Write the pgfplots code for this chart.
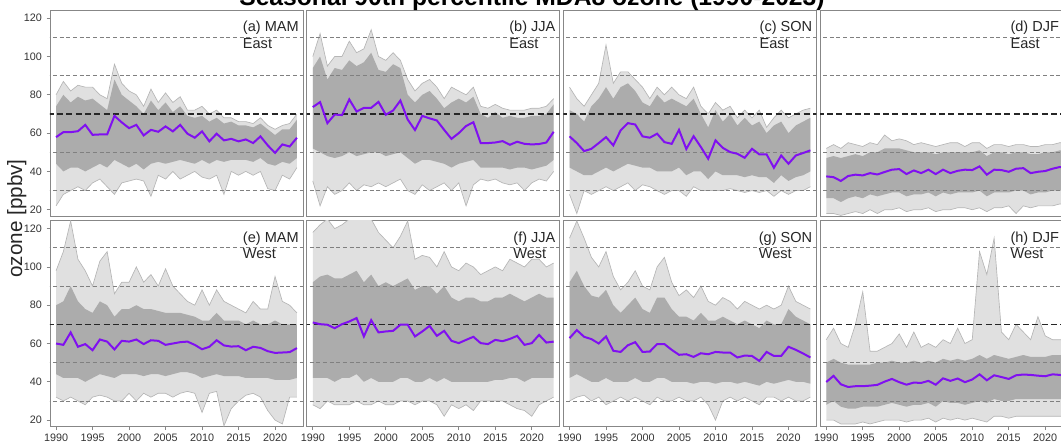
\documentclass[border=0pt]{standalone}
\usepackage{fontspec}
\setmainfont{Liberation Sans}
\usepackage{pgfplots}
\pgfplotsset{compat=1.18}
\usepackage{pgfplotstable}
\usepgfplotslibrary{groupplots,fillbetween}

\definecolor{denseg}{RGB}{172,172,172}
\definecolor{sparseg}{RGB}{224,224,224}
\definecolor{lineg}{RGB}{182,182,182}
\definecolor{framec}{RGB}{135,135,135}
\definecolor{refg}{RGB}{128,128,128}
\definecolor{purp}{RGB}{128,16,240}

% columns: year, outer high, inner high, median, inner low, outer low
\pgfplotstableread{
yr oh ih md il ol
1990 80 74 57.9 44 22
1991 87 80 60.5 40 28
1992 82 76 60.5 42 30
1993 85 79 61.0 42 32
1994 84 77 64.3 40 30
1995 84 78 59.1 42 34
1996 80 75 59.3 44 36
1997 78 72 59.3 42 32
1998 96 88 69.0 46 28
1999 86 80 65.6 44 34
2000 82 77 62.6 42 35
2001 80 74 64.3 44 36
2002 74 70 58.8 41 35
2003 83 77 61.7 44 27
2004 76 72 60.7 45 38
2005 81 76 63.5 44 36
2006 76 71 60.9 45 40
2007 79 74 64.3 46 36
2008 72 69 59.7 45 38
2009 72 68 57.6 44 40
2010 74 69 60.9 46 37
2011 70 66 55.7 44 36
2012 72 68 59.7 46 38
2013 68 65 56.2 45 28
2014 68 66 57.0 46 40
2015 66 64 55.7 46 38
2016 66 64 56.7 46 40
2017 65 63 54.8 45 38
2018 68 65 58.3 47 40
2019 64 62 53.6 44 31
2020 62 59 49.7 43 30
2021 64 62 54.1 45 38
2022 65 62 53.0 44 36
2023 70 67 57.6 47 42
}\tabA

\pgfplotstableread{
yr oh ih md il ol
1990 100 94 73.6 52 35
1991 112 100 76.2 50 22
1992 95 88 65.2 48 32
1993 100 94 69.7 47 28
1994 100 93 69.4 48 30
1995 108 98 77.6 50 34
1996 102 95 71.3 48 30
1997 104 97 73.2 49 33
1998 114 102 73.2 50 32
1999 100 93 76.3 50 34
2000 98 92 69.6 48 32
2001 102 96 71.8 49 34
2002 98 94 77.0 50 36
2003 88 80 67.1 47 30
2004 82 76 61.6 44 28
2005 86 80 69.0 46 33
2006 88 82 67.7 46 30
2007 84 78 66.6 45 32
2008 78 73 61.7 44 34
2009 84 76 57.0 42 30
2010 82 78 60.0 44 34
2011 80 76 63.7 45 22
2012 84 79 65.7 46 33
2013 74 70 54.8 42 36
2014 73 68 54.8 42 35
2015 75 71 55.1 42 36
2016 73 68 55.8 42 34
2017 72 69 53.9 41 33
2018 72 68 55.5 42 34
2019 72 68 54.4 42 30
2020 73 69 54.1 41 34
2021 73 69 54.3 42 36
2022 74 70 55.1 43 35
2023 78 75 60.7 46 40
}\tabB

\pgfplotstableread{
yr oh ih md il ol
1990 84 72 58.3 42 28
1991 78 70 54.8 40 18
1992 74 66 50.6 38 30
1993 80 74 51.8 38 28
1994 86 78 54.8 40 30
1995 106 84 57.9 42 32
1996 86 78 53.6 40 30
1997 92 84 61.4 42 32
1998 92 86 65.2 44 34
1999 88 82 64.5 43 30
2000 84 76 58.3 42 33
2001 78 74 57.6 42 32
2002 84 80 59.7 40 30
2003 80 76 55.3 40 28
2004 84 78 54.4 40 30
2005 80 76 61.7 42 30
2006 78 74 51.7 38 27
2007 84 78 58.4 40 32
2008 74 70 52.7 40 30
2009 70 63 46.6 36 30
2010 76 72 56.2 40 30
2011 72 66 52.3 38 30
2012 74 70 50.1 38 31
2013 68 64 49.2 38 30
2014 72 68 47.1 37 29
2015 68 64 51.8 38 30
2016 72 66 48.9 37 29
2017 63 60 48.9 37 30
2018 68 64 41.9 34 27
2019 72 66 48.3 38 30
2020 68 60 44.0 35 28
2021 70 64 48.3 37 30
2022 72 66 49.6 38 30
2023 73 68 51.0 40 32
}\tabC

\pgfplotstableread{
yr oh ih md il ol
1990 52 47 37.4 26 18
1991 54 48 37.0 26 18
1992 52 47 35.0 24 17
1993 55 48 37.6 26 18
1994 54 49 38.3 27 19
1995 53 48 37.9 26 18
1996 55 50 39.1 28 20
1997 54 50 38.4 27 18
1998 59 52 39.7 28 20
1999 56 52 40.9 29 20
2000 57 52 41.2 29 21
2001 56 51 38.6 27 19
2002 54 50 40.5 28 20
2003 55 50 39.1 28 20
2004 54 50 40.9 29 21
2005 53 49 38.6 27 19
2006 54 50 40.9 29 20
2007 55 50 39.1 28 20
2008 55 50 40.3 29 21
2009 53 50 40.9 29 21
2010 55 50 40.7 29 20
2011 55 51 42.6 30 21
2012 52 48 38.3 27 19
2013 54 50 40.9 29 21
2014 54 50 40.7 29 21
2015 53 49 39.8 29 22
2016 54 50 41.4 30 18
2017 54 50 41.7 30 22
2018 53 49 39.1 28 21
2019 53 49 39.8 29 22
2020 54 50 40.2 29 22
2021 54 50 41.4 30 22
2022 55 51 42.3 30 23
2023 55 51 42.0 30 23
}\tabD

\pgfplotstableread{
yr oh ih md il ol
1990 98 80 60.0 44 32
1991 108 82 59.3 42 30
1992 124 90 65.8 42 32
1993 104 82 58.3 42 30
1994 98 78 59.7 40 28
1995 90 76 56.5 42 32
1996 103 82 62.1 44 33
1997 108 80 61.0 43 32
1998 86 74 56.9 42 30
1999 92 78 61.4 44 30
2000 92 78 61.0 44 34
2001 100 80 62.1 44 30
2002 92 78 59.7 43 34
2003 96 78 61.7 44 32
2004 90 77 61.4 44 34
2005 99 76 59.3 43 34
2006 90 76 60.0 44 32
2007 86 76 60.7 45 34
2008 82 75 61.0 45 35
2009 80 74 59.3 44 34
2010 88 72 57.0 42 24
2011 80 72 58.3 43 34
2012 88 76 61.7 44 35
2013 82 72 59.0 43 17
2014 80 72 58.4 43 26
2015 78 72 58.6 43 30
2016 76 70 56.5 42 33
2017 82 72 58.3 42 34
2018 78 70 57.7 42 32
2019 78 70 56.0 42 25
2020 95 72 55.1 41 20
2021 82 70 55.3 41 18
2022 80 70 55.5 41 32
2023 76 70 57.6 42 32
}\tabE

\pgfplotstableread{
yr oh ih md il ol
1990 118 92 71.0 42 28
1991 122 95 70.1 42 26
1992 125 96 69.8 42 30
1993 120 94 68.0 40 28
1994 122 94 70.1 42 28
1995 125 96 71.5 42 28
1996 125 98 73.3 44 30
1997 125 92 63.7 40 28
1998 125 96 72.2 42 28
1999 118 90 65.8 40 30
2000 114 92 66.3 40 28
2001 110 90 66.6 40 28
2002 116 92 69.8 42 30
2003 124 94 69.8 42 30
2004 104 88 63.7 40 28
2005 106 90 66.3 40 30
2006 105 90 69.2 42 30
2007 100 86 64.0 40 28
2008 108 90 66.6 42 22
2009 100 84 61.4 40 28
2010 98 82 60.2 40 26
2011 102 84 61.9 40 28
2012 100 84 63.5 40 25
2013 96 82 60.2 40 30
2014 98 82 59.7 40 30
2015 100 84 61.9 41 30
2016 98 84 61.2 41 30
2017 104 86 62.4 42 28
2018 102 84 64.0 42 26
2019 100 82 59.3 40 25
2020 104 84 60.2 42 22
2021 104 86 64.5 42 28
2022 100 84 60.5 42 30
2023 102 84 61.0 42 32
}\tabF

\pgfplotstableread{
yr oh ih md il ol
1990 115 92 62.8 42 30
1991 124 98 67.0 44 32
1992 115 90 63.5 42 33
1993 105 85 62.3 40 30
1994 100 84 60.0 40 32
1995 108 88 63.7 42 28
1996 95 80 56.2 40 30
1997 88 76 55.6 40 32
1998 92 80 59.1 40 30
1999 98 84 60.7 42 32
2000 90 78 55.6 40 30
2001 88 76 55.8 40 28
2002 100 84 59.7 42 32
2003 105 84 59.7 42 30
2004 92 78 56.7 40 30
2005 85 74 54.1 40 32
2006 88 74 54.4 40 30
2007 84 72 53.0 39 30
2008 90 76 54.9 40 32
2009 82 72 54.4 40 28
2010 80 72 55.6 39 20
2011 84 74 55.3 40 30
2012 82 72 55.3 40 32
2013 78 70 52.7 39 30
2014 82 72 53.7 40 32
2015 80 70 53.5 39 30
2016 78 68 50.9 38 28
2017 80 72 55.6 40 32
2018 78 70 53.5 39 32
2019 80 70 53.5 40 30
2020 90 78 58.3 41 32
2021 82 74 56.7 40 30
2022 80 72 54.8 40 30
2023 78 70 52.7 39 32
}\tabG

\pgfplotstableread{
yr oh ih md il ol
1990 62 50 39.9 28 20
1991 68 52 43.1 30 20
1992 60 50 38.7 27 18
1993 58 49 37.3 26 18
1994 70 49 37.7 26 18
1995 87 49 37.7 27 19
1996 56 49 38.0 27 18
1997 56 50 38.4 27 19
1998 58 50 40.1 28 20
1999 60 51 41.5 29 20
2000 65 50 39.8 28 20
2001 58 50 38.5 27 19
2002 66 51 39.6 28 20
2003 58 50 39.4 28 20
2004 60 51 40.5 29 21
2005 58 50 38.5 27 19
2006 62 52 41.8 30 21
2007 60 51 40.5 29 20
2008 68 52 41.7 29 21
2009 60 51 39.8 28 20
2010 62 52 41.2 29 21
2011 108 54 43.9 30 20
2012 96 52 40.8 29 19
2013 115 54 43.4 31 22
2014 66 53 42.5 30 22
2015 62 52 41.5 30 21
2016 70 53 43.4 31 22
2017 66 54 43.8 31 22
2018 62 53 43.6 31 22
2019 74 53 43.2 31 22
2020 64 53 42.9 31 22
2021 62 54 43.9 31 22
2022 62 54 43.6 31 22
2023 62 54 43.0 31 22
}\tabH

% one facet: site spread as two grey bands, reference lines, median in purple
% #5 = horizontal position of the facet label (right edge, rel axis cs)
\newcommand{\panel}[5]{%
  \addplot[name path=oh#2, draw=none, forget plot] table[x=yr,y=oh]{#1};
  \addplot[name path=ol#2, draw=none, forget plot] table[x=yr,y=ol]{#1};
  \addplot[fill=sparseg, draw=none, forget plot] fill between[of=oh#2 and ol#2];
  \addplot[name path=ih#2, draw=none, forget plot] table[x=yr,y=ih]{#1};
  \addplot[name path=il#2, draw=none, forget plot] table[x=yr,y=il]{#1};
  \addplot[fill=denseg, draw=none, forget plot] fill between[of=ih#2 and il#2];
  \addplot[lineg, line width=0.5pt] table[x=yr,y=oh]{#1};
  \addplot[lineg, line width=0.5pt] table[x=yr,y=ol]{#1};
  \addplot[refg, line width=0.6pt, dash pattern=on 3pt off 2pt] coordinates {(1985,30) (2030,30)};
  \addplot[refg, line width=0.6pt, dash pattern=on 3pt off 2pt] coordinates {(1985,50) (2030,50)};
  \addplot[refg, line width=0.6pt, dash pattern=on 3pt off 2pt] coordinates {(1985,90) (2030,90)};
  \addplot[refg, line width=0.6pt, dash pattern=on 3pt off 2pt] coordinates {(1985,110) (2030,110)};
  \addplot[black!85, line width=1.0pt, dash pattern=on 4.5pt off 2.5pt] coordinates {(1985,70) (2030,70)};
  \addplot[purp, line width=1.5pt] table[x=yr,y=md]{#1};
  \node[anchor=north east, align=left, inner sep=0pt,
        font=\fontsize{10.9}{12.5}\selectfont, text=black!85]
        at (rel axis cs:#5,0.947) {#3\\#4};
}

\begin{document}
\begin{tikzpicture}
\begin{groupplot}[
  group style={group size=4 by 2, horizontal sep=2.8pt, vertical sep=3pt},
  width=189.75pt, height=154.8pt, scale only axis,
  xmin=1989.17, xmax=2023.83, ymin=16.5, ymax=124.3,
  xtick={1990,1995,...,2020}, ytick={20,40,...,120},
  axis line style={draw=framec, line width=0.7pt},
  tick style={draw=framec, line width=0.6pt},
  tick align=outside, tick pos=left, major tick length=2.5pt,
  ticklabel style={font=\fontsize{8.1}{9}\selectfont, text=black!80},
  /pgf/number format/assume math mode=true,
  /pgf/number format/1000 sep={},
  xticklabel style={yshift=0.5pt},
]
\nextgroupplot[xtick=\empty]
\panel{\tabA}{A}{(a) MAM}{East}{0.984}
\nextgroupplot[xtick=\empty, ytick=\empty]
\panel{\tabB}{B}{(b) JJA}{East}{0.984}
\nextgroupplot[xtick=\empty, ytick=\empty]
\panel{\tabC}{C}{(c) SON}{East}{0.984}
\nextgroupplot[xtick=\empty, ytick=\empty]
\panel{\tabD}{D}{(d) DJF}{East}{0.945}
\nextgroupplot[]
\panel{\tabE}{E}{(e) MAM}{West}{0.984}
\nextgroupplot[ytick=\empty]
\panel{\tabF}{F}{(f) JJA}{West}{0.984}
\nextgroupplot[ytick=\empty]
\panel{\tabG}{G}{(g) SON}{West}{0.984}
\nextgroupplot[ytick=\empty]
\panel{\tabH}{H}{(h) DJF}{West}{0.945}
\end{groupplot}
\node[rotate=90, font=\fontsize{15.5}{18}\selectfont, text=black!85]
  at ([xshift=-25pt,yshift=-1.5pt]group c1r1.south west) {ozone [ppbv]};
\node[anchor=base, font=\bfseries\fontsize{18.5}{22}\selectfont]
  at ([xshift=361.5pt,yshift=3.2pt]group c1r1.north west)
  {Seasonal 90th percentile MDA8 ozone (1990-2023)};
\pgfresetboundingbox
\path[use as bounding box] ([xshift=-37.5pt,yshift=7.5pt]group c1r1.north west)
  rectangle ++(795.75pt,-332.25pt);
\end{tikzpicture}
\end{document}
